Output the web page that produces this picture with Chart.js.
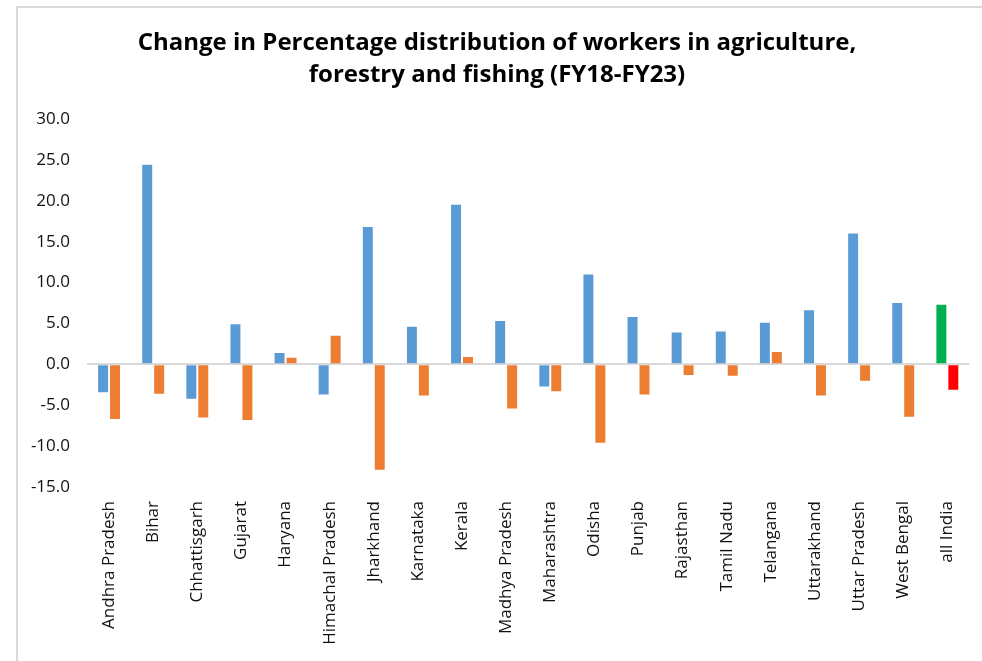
<!DOCTYPE html>
<html>
<head>
<meta charset="utf-8">
<script src="https://cdn.jsdelivr.net/npm/chart.js@4/dist/chart.umd.min.js"></script>
<style>
  html, body { margin: 0; padding: 0; background: #fff; overflow: hidden; }
  #wrap { position: relative; width: 982px; height: 661px; }
  #frame {
    position: absolute; left: 16px; top: 6px; width: 2000px; height: 2000px;
    border-top: 2px solid #d9d9d9; border-left: 2px solid #d9d9d9;
  }
  canvas { position: absolute; left: 0; top: 0; }
</style>
</head>
<body>
<div id="wrap">
  <div id="frame"></div>
  <canvas id="chart" width="982" height="661"></canvas>
</div>
<script>
// States (plus the all-India total) along the category axis
const states = [
  'Andhra Pradesh', 'Bihar', 'Chhattisgarh', 'Gujarat', 'Haryana',
  'Himachal Pradesh', 'Jharkhand', 'Karnataka', 'Kerala', 'Madhya Pradesh',
  'Maharashtra', 'Odisha', 'Punjab', 'Rajasthan', 'Tamil Nadu',
  'Telangana', 'Uttarakhand', 'Uttar Pradesh', 'West Bengal', 'all India'
];

// Change in percentage share of workers, first series
const changeA = [
  -3.4, 24.4, -4.2, 4.9, 1.4,
  -3.7, 16.8, 4.6, 19.5, 5.3,
  -2.7, 11.0, 5.8, 3.9, 4.0,
  5.1, 6.6, 16.0, 7.5, 7.3
];

// Change in percentage share of workers, second series
const changeB = [
  -6.7, -3.6, -6.5, -6.8, 0.8,
  3.5, -12.9, -3.8, 0.9, -5.4,
  -3.3, -9.6, -3.7, -1.3, -1.4,
  1.5, -3.8, -2.0, -6.4, -3.1
];

// Value axis range and step
const yMin = -15;
const yMax = 30;
const yStep = 5;

const titleLines = [
  'Change in Percentage distribution of workers in agriculture,',
  'forestry and fishing (FY18-FY23)'
];

const lastIdx = states.length - 1;

new Chart(document.getElementById('chart'), {
  type: 'bar',
  data: {
    labels: states,
    datasets: [
      {
        data: changeA,
        backgroundColor: ctx => ctx.dataIndex === lastIdx ? '#00b050' : '#5b9bd5',
        categoryPercentage: 0.542,
        barPercentage: 0.833
      },
      {
        data: changeB,
        backgroundColor: ctx => ctx.dataIndex === lastIdx ? '#ff0000' : '#ed7d31',
        categoryPercentage: 0.542,
        barPercentage: 0.833
      }
    ]
  },
  options: {
    responsive: false,
    animation: false,
    layout: { padding: { left: 22, right: 10, top: 0, bottom: 0 } },
    plugins: {
      legend: { display: false },
      tooltip: { enabled: false },
      title: {
        display: true,
        text: titleLines,
        color: '#000',
        font: { family: 'Open Sans', size: 24, weight: 'bold', lineHeight: 1.3333 },
        padding: { top: 27, bottom: 28 }
      }
    },
    scales: {
      x: {
        grid: { display: false, drawTicks: false },
        border: { display: false },
        ticks: {
          color: '#111',
          font: { family: 'Open Sans', size: 17 },
          minRotation: 90,
          maxRotation: 90,
          autoSkip: false,
          padding: 14
        },
        afterFit: scale => { scale.height = 174; }
      },
      y: {
        min: yMin,
        max: yMax,
        grid: {
          drawTicks: false,
          lineWidth: 2,
          color: ctx => (ctx.tick && ctx.tick.value === 0) ? '#d9d9d9' : 'rgba(0,0,0,0)'
        },
        border: { display: false },
        ticks: {
          stepSize: yStep,
          color: '#111',
          font: { family: 'Open Sans', size: 17 },
          padding: 17,
          callback: v => Number(v).toFixed(1)
        },
        afterFit: scale => { scale.width = 65; }
      }
    }
  }
});
</script>
</body>
</html>
